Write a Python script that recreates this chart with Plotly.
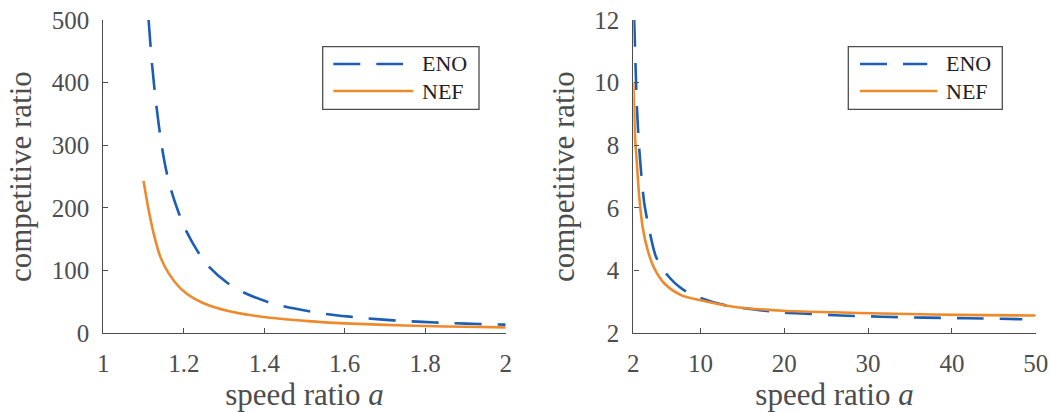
import plotly.graph_objects as go
from plotly.subplots import make_subplots

# ---- data ----
# left panel: speed ratio a in [1, 2]
eno_left_a = [1.1125, 1.121, 1.132, 1.146, 1.158, 1.1693, 1.1875, 1.2025, 1.2333, 1.26,
              1.307, 1.346, 1.404, 1.442, 1.508, 1.55, 1.6125, 1.654, 1.721, 1.762,
              1.825, 1.867, 1.933, 2.0]
eno_left_r = [500, 430, 362, 296, 255, 227, 192, 168, 132, 108,
              81, 66, 51, 44, 35.5, 31.2, 26.6, 24, 20.7, 19.2,
              17.3, 16.2, 14.8, 13.8]
nef_left_a = [1.1, 1.1125, 1.125, 1.1417, 1.1625, 1.1917, 1.225, 1.2667, 1.325, 1.404,
              1.508, 1.6, 1.7, 1.8, 1.9, 2.0]
nef_left_r = [243, 197, 159.5, 122, 95.7, 71.8, 55.8, 43.5, 33.5, 25.5,
              19.5, 15.9, 13.5, 11.6, 10.4, 9.5]

# right panel: speed ratio a in [2, 50]
eno_right_a = [2.1, 2.18, 2.3, 2.42, 2.66, 2.97, 3.3, 3.9, 4.7, 5.9, 7.9, 9.9,
               12.9, 17.1, 19.9, 23.1, 26.7, 31.6, 36.6, 41.8, 48.4]
eno_right_r = [12, 11.25, 10.2, 9.23, 8.06, 7.0, 6.15, 5.3, 4.44, 3.91, 3.40, 3.14,
               2.9, 2.74, 2.66, 2.62, 2.57, 2.53, 2.50, 2.48, 2.45]
nef_right_a = [2.0, 2.1, 2.2, 2.42, 2.7, 3.1, 3.7, 4.5, 5.7, 7.7, 9.9, 13.9,
               19.9, 25.9, 31.8, 37.8, 43.8, 50]
nef_right_r = [10, 9.12, 8.27, 7.42, 6.36, 5.4, 4.66, 4.07, 3.59, 3.22, 3.06, 2.85,
               2.72, 2.67, 2.63, 2.60, 2.58, 2.57]

series_names = ["ENO", "NEF"]
left_xticks = [1, 1.2, 1.4, 1.6, 1.8, 2]
left_xlabels = ["1", "1.2", "1.4", "1.6", "1.8", "2"]
left_yticks = [0, 100, 200, 300, 400, 500]
right_xticks = [2, 10, 20, 30, 40, 50]
right_yticks = [2, 4, 6, 8, 10, 12]

BLUE = "#1b5eb3"
ORANGE = "#ee8a2c"
GRAY = "#4d4d4d"
FONT = "Liberation Serif"
W, H = 1050, 412
ENO_DASH = "27px,16px"

fig = make_subplots(rows=1, cols=2)

def add_pair(col, ea, er, na, nr):
    fig.add_trace(go.Scatter(x=ea, y=er, mode="lines", name=series_names[0], showlegend=False,
                             line=dict(color=BLUE, width=2.6, dash=ENO_DASH, shape="spline", smoothing=0.8)),
                  row=1, col=col)
    fig.add_trace(go.Scatter(x=na, y=nr, mode="lines", name=series_names[1], showlegend=False,
                             line=dict(color=ORANGE, width=2.6, shape="spline", smoothing=0.8)),
                  row=1, col=col)

add_pair(1, eno_left_a, eno_left_r, nef_left_a, nef_left_r)
add_pair(2, eno_right_a, eno_right_r, nef_right_a, nef_right_r)

tick_font = dict(family=FONT, size=25, color=GRAY)
title_font = dict(family=FONT, size=31, color=GRAY)
axis_common = dict(showline=True, linecolor=GRAY, linewidth=1.3, ticks="inside", ticklen=5,
                   tickcolor=GRAY, tickwidth=1.2, showgrid=False, zeroline=False, mirror=False,
                   tickfont=tick_font, automargin=False, ticklabelstandoff=8)

fig.update_xaxes(**axis_common)
fig.update_yaxes(**axis_common)

fig.update_xaxes(row=1, col=1, range=[1, 2], tickvals=left_xticks, ticktext=left_xlabels,
                 domain=[0.0984, 0.4816], title=dict(text="speed ratio <i>a</i>", font=title_font, standoff=6))
fig.update_yaxes(row=1, col=1, range=[0, 500], tickvals=left_yticks, domain=[0.191, 0.9515],
                 title=dict(text="competitive ratio", font=title_font, standoff=10))
fig.update_xaxes(row=1, col=2, range=[2, 50], tickvals=right_xticks,
                 domain=[0.6032, 0.9864], title=dict(text="speed ratio <i>a</i>", font=title_font, standoff=6))
fig.update_yaxes(row=1, col=2, range=[2, 12], tickvals=right_yticks, domain=[0.191, 0.9515],
                 title=dict(text="competitive ratio", font=title_font, standoff=10))

# ---- legends drawn as boxes with long line samples (pixel layout) ----
def px(x):
    return x / W

def py(y):
    return 1 - y / H

shapes = []
annotations = []

def add_legend(box, sample_x0, eno_x1, nef_x1, text_x):
    bx0, by0, bx1, by1 = box
    shapes.append(dict(type="rect", xref="paper", yref="paper",
                       x0=px(bx0), x1=px(bx1), y0=py(by1), y1=py(by0),
                       line=dict(color=GRAY, width=1.3), fillcolor="white", layer="above"))
    shapes.append(dict(type="line", xref="paper", yref="paper",
                       x0=px(sample_x0), x1=px(eno_x1), y0=py(64), y1=py(64),
                       line=dict(color=BLUE, width=2.6, dash=ENO_DASH), layer="above"))
    shapes.append(dict(type="line", xref="paper", yref="paper",
                       x0=px(sample_x0), x1=px(nef_x1), y0=py(91), y1=py(91),
                       line=dict(color=ORANGE, width=2.6), layer="above"))
    for name, yy in zip(series_names, [64, 91]):
        annotations.append(dict(text=name, xref="paper", yref="paper", x=px(text_x), y=py(yy),
                                xanchor="left", yanchor="middle", showarrow=False,
                                font=dict(family=FONT, size=22, color="#222")))

add_legend((322.7, 46.7, 479, 109.3), 333.3, 403, 413.3, 420)
add_legend((848.3, 46.7, 1002.3, 109.3), 860, 927.3, 937.3, 944)

fig.update_layout(
    width=W, height=H,
    margin=dict(l=0, r=0, t=0, b=0),
    font=dict(family=FONT, color=GRAY),
    plot_bgcolor="white", paper_bgcolor="white",
    showlegend=False,
    shapes=shapes, annotations=annotations,
)

fig.write_html("out.html")
